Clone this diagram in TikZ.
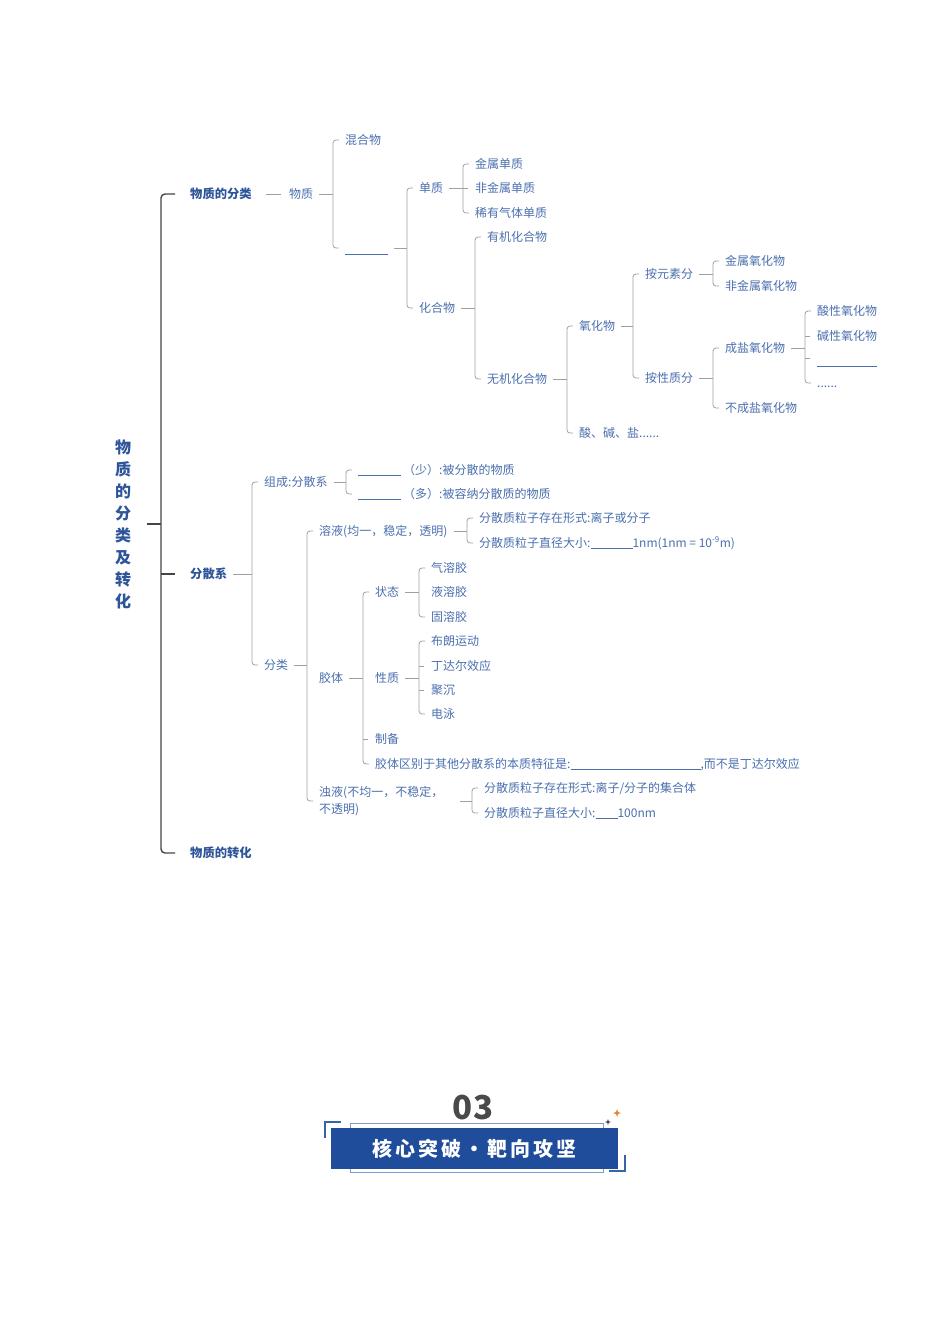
\documentclass[tikz,border=0pt]{standalone}
\usepackage{fontspec}
\setmainfont{Noto Sans CJK SC}
\usetikzlibrary{calc}
\definecolor{txt}{HTML}{4A6FAE}
\definecolor{hd}{HTML}{2E5599}
\definecolor{lc}{HTML}{A0A0A0}
\definecolor{mlc}{HTML}{454545}
\definecolor{banblue}{HTML}{1F4C9B}
\definecolor{outl}{HTML}{7F9BC8}
\definecolor{cornerc}{HTML}{3A62A8}
\definecolor{numgray}{HTML}{4A4A4A}
\definecolor{starorange}{HTML}{E08A2E}
\definecolor{stardark}{HTML}{333333}
\newcommand\myconn[2]{\draw[ln] ([xshift=6pt]#1.east) -- ($(#1.east -| #2.west)+(-12,0)$);}
\newcommand\mybrk[2]{\draw[br] ($(#1.west)+(-6,0)$) -- ($(#1.west)+(-12,0)$) -- ($(#2.west)+(-12,0)$) -- ($(#2.west)+(-6,0)$);}
\newcommand\mytick[1]{\draw[ln] ($(#1.west)+(-12,0)$) -- ($(#1.west)+(-7,0)$);}
\newcommand\blk[1]{\rule[-2pt]{#1}{0.6pt}}
\begin{document}
\begin{tikzpicture}[x=1pt,y=-1pt,
  t/.style={anchor=west,inner sep=0pt,text=txt,font=\fontsize{12}{14}\selectfont,text height=10pt,text depth=2pt},
  hb/.style={anchor=west,inner sep=0pt,text=hd,font=\fontsize{12.3}{14}\selectfont\bfseries,text height=10pt,text depth=2pt},
  ln/.style={draw=lc,line width=0.8pt},
  br/.style={ln,rounded corners=3pt},
  mln/.style={draw=mlc,line width=1.4pt},
  blank/.style={anchor=west,inner sep=0pt,minimum height=12pt,minimum width=#1},
  uline/.style={draw=txt,line width=0.6pt}]
\useasboundingbox (0,0) rectangle (950,1344);

% ---- title
\node[inner sep=0pt,align=center,text=hd,font=\fontsize{16}{22}\selectfont\bfseries] (title) at (123,524) {物\\质\\的\\分\\类\\及\\转\\化};

% ---- level 1
\node[hb] (a1) at (190,194) {物质的分类};
\node[hb] (a2) at (190,574) {分散系};
\node[hb] (a3) at (190,853) {物质的转化};
\draw[mln] ([xshift=16pt]title.east) -- ($(title.east -| a1.west)+(-29,0)$);
\draw[mln,rounded corners=4pt] ($(a1.west)+(-15,0)$) -- ($(a1.west)+(-29,0)$) -- ($(a3.west)+(-29,0)$) -- ($(a3.west)+(-15,0)$);
\draw[mln] ($(a2.west)+(-29,0)$) -- ($(a2.west)+(-15,0)$);

% ---- classification of matter
\node[t] (b1) at (289,194) {物质};
\draw[ln] ([xshift=14pt]a1.east) -- ([xshift=-8pt]b1.west);
\node[t] (c1) at (345,140) {混合物};
\node[blank=43pt] (c2) at (345,248) {};
\draw[uline] (c2.south west) -- (c2.south east);
\myconn{b1}{c1}\mybrk{c1}{c2}

\node[t] (d1) at (419,188) {单质};
\node[t] (d2) at (419,308) {化合物};
\myconn{c2}{d1}\mybrk{d1}{d2}

\node[t] (e1) at (475,164) {金属单质};
\node[t] (e2) at (475,188) {非金属单质};
\node[t] (e3) at (475,213) {稀有气体单质};
\myconn{d1}{e1}\mybrk{e1}{e3}\mytick{e2}

\node[t] (f1) at (487,237) {有机化合物};
\node[t] (f2) at (487,379) {无机化合物};
\myconn{d2}{f1}\mybrk{f1}{f2}

\node[t] (g1) at (579,326) {氧化物};
\node[t] (g2) at (579,433) {酸、碱、盐......};
\myconn{f2}{g1}\mybrk{g1}{g2}

\node[t] (h1) at (645,274) {按元素分};
\node[t] (h2) at (645,378) {按性质分};
\myconn{g1}{h1}\mybrk{h1}{h2}

\node[t] (i1) at (725,261) {金属氧化物};
\node[t] (i2) at (725,286) {非金属氧化物};
\myconn{h1}{i1}\mybrk{i1}{i2}

\node[t] (j1) at (725,348) {成盐氧化物};
\node[t] (j2) at (725,408) {不成盐氧化物};
\myconn{h2}{j1}\mybrk{j1}{j2}

\node[t] (k1) at (817,311) {酸性氧化物};
\node[t] (k2) at (817,336) {碱性氧化物};
\node[blank=60pt,minimum height=16pt] (k3) at (817,358) {};
\draw[uline] (k3.south west) -- (k3.south east);
\node[t] (k4) at (817,383) {......};
\myconn{j1}{k1}\mybrk{k1}{k4}\mytick{k2}\mytick{k3}

% ---- dispersion systems
\node[t] (m1) at (264,482) {组成:分散系};
\node[t] (m2) at (264,665) {分类};
\myconn{a2}{m1}\mybrk{m1}{m2}

\node[t] (n1) at (358,470) {\blk{43pt}\hspace{2pt}（少）:被分散的物质};
\node[t] (n2) at (358,494) {\blk{43pt}\hspace{2pt}（多）:被容纳分散质的物质};
\myconn{m1}{n1}\mybrk{n1}{n2}

\node[t] (o1) at (319,531) {溶液(均一，稳定，透明)};
\node[t] (o2) at (319,678) {胶体};
\node[anchor=west,inner sep=0pt,text=txt,font=\fontsize{12}{17}\selectfont,text width=135pt,align=left] (o3) at (319,801) {浊液(不均一，不稳定，\\不透明)};
\myconn{m2}{o1}\mybrk{o1}{o3}

\node[t] (p1) at (479,518) {分散质粒子存在形式:离子或分子};
\node[t] (p2) at (479,543) {分散质粒子直径大小:\blk{42pt}1nm(1nm = 10\textsuperscript{-9}m)};
\myconn{o1}{p1}\mybrk{p1}{p2}

\node[t] (q1) at (375,592) {状态};
\node[t] (q2) at (375,678) {性质};
\node[t] (q3) at (375,739) {制备};
\node[t] (q4) at (375,764) {胶体区别于其他分散系的本质特征是:\blk{130pt},而不是丁达尔效应};
\myconn{o2}{q1}\mybrk{q1}{q4}\mytick{q3}

\node[t] (r1) at (431,568) {气溶胶};
\node[t] (r2) at (431,592) {液溶胶};
\node[t] (r3) at (431,617) {固溶胶};
\myconn{q1}{r1}\mybrk{r1}{r3}

\node[t] (s1) at (431,641) {布朗运动};
\node[t] (s2) at (431,666) {丁达尔效应};
\node[t] (s3) at (431,690) {聚沉};
\node[t] (s4) at (431,714) {电泳};
\myconn{q2}{s1}\mybrk{s1}{s4}\mytick{s2}\mytick{s3}

\node[t] (u1) at (484,788) {分散质粒子存在形式:离子/分子的集合体};
\node[t] (u2) at (484,813) {分散质粒子直径大小:\blk{22pt}100nm};
\myconn{o3}{u1}\mybrk{u1}{u2}

% ---- banner
\node[text=numgray,font=\fontsize{33}{33}\selectfont\bfseries,inner sep=0pt] (num) at (473,1108) {03};
\draw[outl,line width=0.8pt] (350,1123) rectangle (603,1172);
\node[fill=banblue,minimum width=287pt,minimum height=41pt,inner sep=0pt] (ban) at (474.5,1148.5) {};
\node[text=white,inner sep=0pt,font=\fontsize{20}{20}\selectfont\bfseries\addfontfeature{LetterSpace=15}] (bt) at (ban.center) {核心突破・靶向攻坚};
\draw[cornerc,line width=1.6pt] (341,1122) -- (325,1122) -- (325,1138);
\draw[cornerc,line width=1.6pt] (625,1155) -- (625,1171) -- (609,1171);
\fill[stardark] (608,1119) -- (608.7,1121.3) -- (611,1122) -- (608.7,1122.7) -- (608,1125) -- (607.3,1122.7) -- (605,1122) -- (607.3,1121.3) -- cycle;
\fill[starorange] (617,1109) -- (618,1112) -- (621,1113) -- (618,1114) -- (617,1117) -- (616,1114) -- (613,1113) -- (616,1112) -- cycle;
\end{tikzpicture}
\end{document}
